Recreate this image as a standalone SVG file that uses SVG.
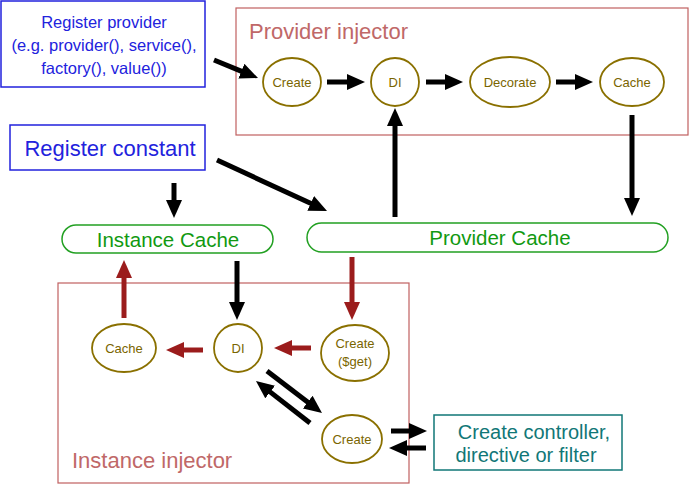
<svg xmlns="http://www.w3.org/2000/svg" width="689" height="484" viewBox="0 0 689 484">
<defs>
<marker id="ah" viewBox="0 0 18 16" refX="1" refY="8" markerWidth="18" markerHeight="16" markerUnits="userSpaceOnUse" orient="auto"><path d="M0,0 L18,8 L0,16 z" fill="#000"/></marker>
<marker id="ahr" viewBox="0 0 18 16" refX="1" refY="8" markerWidth="18" markerHeight="16" markerUnits="userSpaceOnUse" orient="auto"><path d="M0,0 L18,8 L0,16 z" fill="#9b1c1c"/></marker>
</defs>
<style>
text{font-family:"Liberation Sans",Arial,sans-serif}
.blue{fill:#fff;stroke:#2222dd;stroke-width:1.5}
.bt{fill:#2222dd;text-anchor:middle}
.frame{fill:none;stroke:#c06060;stroke-width:1.2}
.ft{fill:#c06868;font-size:22px}
.el{fill:#fff;stroke:#8a7000;stroke-width:1.8}
.et{fill:#7a6500;font-size:13px;text-anchor:middle}
.pill{fill:#fff;stroke:#22a022;stroke-width:1.5}
.pt{fill:#119911;font-size:20.5px;text-anchor:middle}
.k{stroke:#000;stroke-width:5;fill:none;marker-end:url(#ah)}
.r{stroke:#9b1c1c;stroke-width:5;fill:none;marker-end:url(#ahr)}
.teal{fill:#fff;stroke:#117777;stroke-width:1.5}
.tt{fill:#117777;font-size:20px;text-anchor:middle}
</style>
<rect width="689" height="484" fill="#fff"/>
<g id="provider-injector">
<rect class="frame" x="236" y="8" width="452" height="127"/>
<text class="ft" x="249" y="39">Provider injector</text>
</g>
<g id="instance-injector">
<rect class="frame" x="58" y="283" width="351" height="200"/>
<text class="ft" x="72" y="468">Instance injector</text>
</g>
<g id="register-provider">
<rect class="blue" x="1" y="1" width="204" height="86"/>
<text class="bt" font-size="16.5" x="104" y="28">Register provider</text>
<text class="bt" font-size="16.5" x="104" y="51">(e.g. provider(), service(),</text>
<text class="bt" font-size="16.5" x="104" y="74">factory(), value())</text>
</g>
<g id="register-constant">
<rect class="blue" x="10" y="125" width="195" height="45"/>
<text class="bt" font-size="22" x="110" y="156">Register constant</text>
</g>
<g id="p-create"><ellipse class="el" cx="292" cy="82" rx="29" ry="24"/><text class="et" x="292" y="87">Create</text></g>
<g id="p-di"><ellipse class="el" cx="395" cy="82" rx="24" ry="24"/><text class="et" x="395" y="87">DI</text></g>
<g id="p-decorate"><ellipse class="el" cx="510" cy="82" rx="40" ry="25"/><text class="et" x="510" y="87">Decorate</text></g>
<g id="p-cache"><ellipse class="el" cx="632" cy="82" rx="32" ry="24"/><text class="et" x="632" y="87">Cache</text></g>
<g id="instance-cache"><rect class="pill" x="62" y="225" width="211" height="28" rx="14"/><text class="pt" x="168" y="247">Instance Cache</text></g>
<g id="provider-cache"><rect class="pill" x="307" y="223" width="361" height="29" rx="14.5"/><text class="pt" x="500" y="245">Provider Cache</text></g>
<g id="i-cache"><ellipse class="el" cx="124" cy="348" rx="32" ry="24"/><text class="et" x="124" y="353">Cache</text></g>
<g id="i-di"><ellipse class="el" cx="238" cy="348" rx="24" ry="24"/><text class="et" x="238" y="353">DI</text></g>
<g id="i-create-get"><ellipse class="el" cx="355" cy="353" rx="34" ry="28"/><text class="et" x="355" y="348">Create</text><text class="et" x="355" y="366">($get)</text></g>
<g id="i-create"><ellipse class="el" cx="352" cy="439" rx="30" ry="24"/><text class="et" x="352" y="444">Create</text></g>
<g id="controller">
<rect class="teal" x="434" y="415" width="188" height="55"/>
<text class="tt" x="534" y="439">Create controller,</text>
<text class="tt" x="526" y="462">directive or filter</text>
</g>
<g id="connectors">
<line class="k" x1="214" y1="60" x2="242.3" y2="71.6"/>
<line class="k" x1="327" y1="82" x2="348" y2="82"/>
<line class="k" x1="426" y1="82" x2="446" y2="82"/>
<line class="k" x1="556" y1="82" x2="576" y2="82"/>
<line class="k" x1="632" y1="115" x2="632" y2="199"/>
<line class="k" x1="395" y1="217" x2="395" y2="125"/>
<line class="k" x1="174" y1="183" x2="174" y2="201"/>
<line class="k" x1="217" y1="160" x2="311.6" y2="203.8"/>
<line class="r" x1="124" y1="318" x2="124" y2="277"/>
<line class="k" x1="237" y1="261" x2="237" y2="303"/>
<line class="r" x1="352" y1="257" x2="352" y2="303"/>
<line class="r" x1="311" y1="348" x2="291" y2="348"/>
<line class="r" x1="203" y1="350" x2="183" y2="350"/>
<line class="k" x1="267" y1="371" x2="308.5" y2="402.7"/>
<line class="k" x1="310" y1="423" x2="269.4" y2="391.4"/>
<line class="k" x1="391" y1="431" x2="410" y2="431"/>
<line class="k" x1="426" y1="448" x2="406" y2="448"/>
</g>
</svg>
